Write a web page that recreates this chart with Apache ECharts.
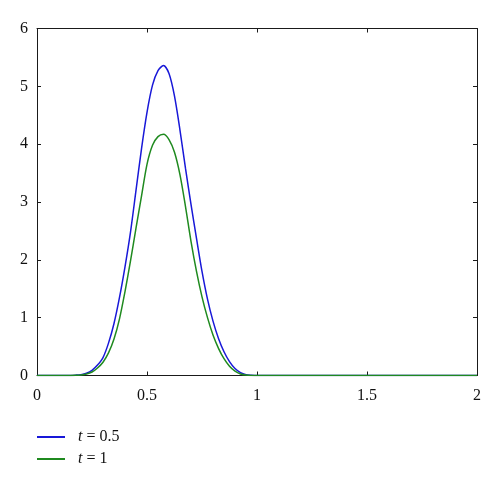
<!DOCTYPE html>
<html>
<head>
<meta charset="utf-8">
<script src="https://cdn.jsdelivr.net/npm/echarts@6/dist/echarts.min.js"></script>
<style>html,body{margin:0;padding:0;background:#fff}#c{width:500px;height:483px}</style>
</head>
<body>
<div id="c"></div>
<script>
const seriesNames = ['t = 0.5', 't = 1'];
const legendValues = ['0.5', '1'];
const xs = [0, 0.1, 0.15, 0.175, 0.2, 0.225, 0.25, 0.275, 0.3, 0.325, 0.35, 0.375, 0.4, 0.425, 0.45, 0.475, 0.5, 0.525, 0.55, 0.575, 0.6, 0.625, 0.65, 0.675, 0.7, 0.725, 0.75, 0.775, 0.8, 0.825, 0.85, 0.875, 0.9, 0.925, 0.95, 0.975, 1.0, 1.25, 1.5, 1.75, 2.0];
const blueY = [0, 0, 0.002, 0.006, 0.015, 0.04, 0.09, 0.18, 0.31, 0.56, 0.90, 1.35, 1.88, 2.48, 3.20, 3.92, 4.55, 5.02, 5.27, 5.36, 5.22, 4.83, 4.24, 3.58, 2.96, 2.37, 1.80, 1.32, 0.94, 0.64, 0.41, 0.24, 0.12, 0.05, 0.015, 0.004, 0, 0, 0, 0, 0];
const greenY = [0, 0, 0.001, 0.003, 0.01, 0.025, 0.06, 0.13, 0.23, 0.39, 0.63, 0.98, 1.45, 1.98, 2.55, 3.10, 3.65, 3.98, 4.13, 4.17, 4.08, 3.86, 3.47, 2.92, 2.32, 1.80, 1.36, 1.00, 0.70, 0.47, 0.29, 0.16, 0.075, 0.027, 0.007, 0.001, 0, 0, 0, 0, 0];
const xTicks = [0, 0.5, 1, 1.5, 2];
const yTicks = [0, 1, 2, 3, 4, 5, 6];

const FONT = '"Liberation Serif", "DejaVu Serif", serif';
const AX = '#1a1a1a';
function pairs(x, y) { return x.map((v, i) => [v, y[i]]); }

const chart = echarts.init(document.getElementById('c'), null, {renderer: 'canvas'});
const axisCommon = {
  type: 'value',
  axisLine: {show: true, onZero: false, lineStyle: {color: AX, width: 1}},
  axisTick: {show: true, inside: true, length: 4, lineStyle: {color: AX}},
  splitLine: {show: false},
  axisLabel: {fontFamily: FONT, fontSize: 16, color: '#111'}
};
chart.setOption({
  animation: false,
  backgroundColor: '#fff',
  grid: {left: 37, right: 23, top: 28.5, bottom: 107.5},
  xAxis: [
    Object.assign({}, axisCommon, {min: xTicks[0], max: xTicks[xTicks.length-1], interval: 0.5, position: 'bottom',
      axisLabel: Object.assign({}, axisCommon.axisLabel, {margin: 12})}),
    Object.assign({}, axisCommon, {min: xTicks[0], max: xTicks[xTicks.length-1], interval: 0.5, position: 'top',
      axisLabel: {show: false}})
  ],
  yAxis: [
    Object.assign({}, axisCommon, {min: yTicks[0], max: yTicks[yTicks.length-1], interval: 1, position: 'left',
      axisLabel: Object.assign({}, axisCommon.axisLabel, {margin: 9})}),
    Object.assign({}, axisCommon, {min: yTicks[0], max: yTicks[yTicks.length-1], interval: 1, position: 'right',
      axisLabel: {show: false}})
  ],
  legend: {
    orient: 'vertical', left: 37, top: 428, padding: 0, itemWidth: 28, itemHeight: 2, itemGap: 4,
    icon: 'rect',
    data: seriesNames,
    formatter: function (name) { const i = seriesNames.indexOf(name); return '{i|t} = ' + legendValues[i]; },
    textStyle: {fontFamily: FONT, fontSize: 16, lineHeight: 18, color: '#111', padding: [0, 0, 0, 8],
      rich: {i: {fontFamily: FONT, fontSize: 16, lineHeight: 18, fontStyle: 'italic', color: '#111'}}}
  },
  series: [
    {name: seriesNames[0], type: 'line', data: pairs(xs, blueY), showSymbol: false, smooth: 0.3,
      lineStyle: {color: '#1818d8', width: 1.5}, itemStyle: {color: '#1818d8'}, z: 3},
    {name: seriesNames[1], type: 'line', data: pairs(xs, greenY), showSymbol: false, smooth: 0.3,
      lineStyle: {color: '#1f8a1f', width: 1.5}, itemStyle: {color: '#1f8a1f'}, z: 4}
  ]
});
</script>
</body>
</html>
